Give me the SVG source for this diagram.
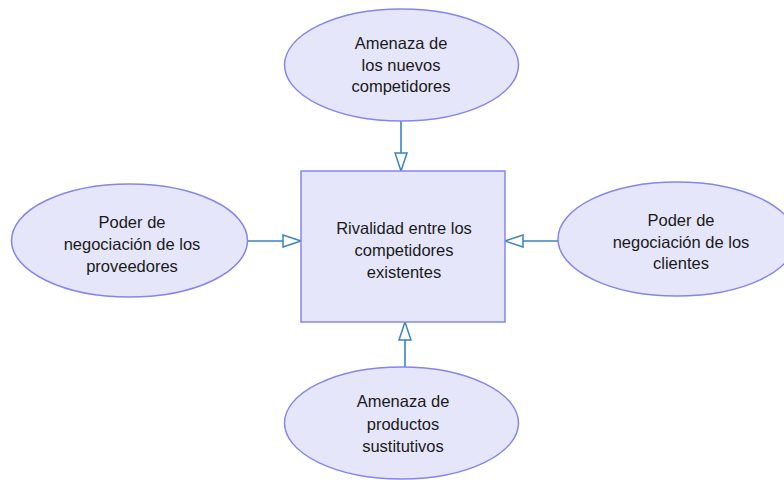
<svg xmlns="http://www.w3.org/2000/svg" width="784" height="480" viewBox="0 0 784 480">
<style>
.n{fill:#e6e6fa;stroke:#8585ee;stroke-width:1.5}
.t{font-family:"Liberation Sans",Arial,sans-serif;font-size:16.5px;fill:#1a1a1a;text-anchor:middle}
.c{stroke:#3a84c0;stroke-width:1.6;fill:none}
</style>
<defs>
<marker id="ah" viewBox="0 0 20 14" refX="19" refY="7" markerWidth="20" markerHeight="14" markerUnits="userSpaceOnUse" orient="auto">
<path d="M1,1 L19,7 L1,13 Z" fill="#ffffff" stroke="#3a84c0" stroke-width="1.5"/>
</marker>
</defs>
<rect width="784" height="480" fill="#ffffff"/>
<g id="connectors">
<line class="c" x1="401" y1="121" x2="401" y2="171" marker-end="url(#ah)"/>
<line class="c" x1="248" y1="241" x2="301" y2="241" marker-end="url(#ah)"/>
<line class="c" x1="558" y1="241" x2="505" y2="241" marker-end="url(#ah)"/>
<line class="c" x1="405" y1="367" x2="405" y2="322" marker-end="url(#ah)"/>
</g>
<g id="center">
<rect class="n" x="301" y="171" width="204" height="151"/>
<text class="t" x="404" y="234">Rivalidad entre los</text>
<text class="t" x="404" y="256">competidores</text>
<text class="t" x="404" y="278">existentes</text>
</g>
<g id="nuevos">
<ellipse class="n" cx="401.5" cy="65" rx="117" ry="56"/>
<text class="t" x="401" y="49">Amenaza de</text>
<text class="t" x="401" y="71">los nuevos</text>
<text class="t" x="401" y="92">competidores</text>
</g>
<g id="proveedores">
<ellipse class="n" cx="129.5" cy="240.5" rx="118" ry="56.5"/>
<text class="t" x="132" y="228">Poder de</text>
<text class="t" x="132" y="250">negociación de los</text>
<text class="t" x="132" y="272">proveedores</text>
</g>
<g id="clientes">
<ellipse class="n" cx="677" cy="239" rx="119" ry="57"/>
<text class="t" x="681" y="226">Poder de</text>
<text class="t" x="681" y="248">negociación de los</text>
<text class="t" x="681" y="269">clientes</text>
</g>
<g id="sustitutos">
<ellipse class="n" cx="401.5" cy="423" rx="117" ry="56"/>
<text class="t" x="403" y="407">Amenaza de</text>
<text class="t" x="403" y="430">productos</text>
<text class="t" x="403" y="452">sustitutivos</text>
</g>
</svg>
